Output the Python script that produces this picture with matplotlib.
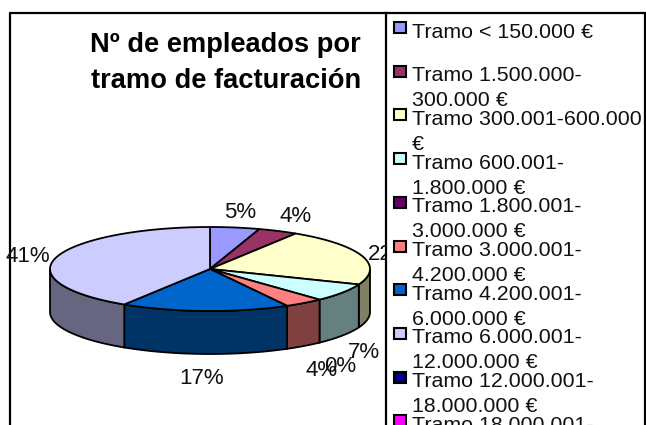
import numpy as np
import matplotlib
matplotlib.use("Agg")
import matplotlib.pyplot as plt
from matplotlib.patches import Polygon, Rectangle

plt.rcParams['font.family'] = ['Liberation Sans', 'DejaVu Sans']

# ------------------------------
# Data
# ------------------------------
tramos = [
    "Tramo < 150.000 €",
    "Tramo 1.500.000-\n300.000 €",
    "Tramo 300.001-600.000\n€",
    "Tramo 600.001-\n1.800.000 €",
    "Tramo 1.800.001-\n3.000.000 €",
    "Tramo 3.000.001-\n4.200.000 €",
    "Tramo 4.200.001-\n6.000.000 €",
    "Tramo 6.000.001-\n12.000.000 €",
    "Tramo 12.000.001-\n18.000.000 €",
    "Tramo 18.000.001-",
]
porcentajes = [5, 4, 22, 7, 0, 4, 17, 41, 0, 0]
etiquetas = ["5%", "4%", "22%", "7%", "0%", "4%", "17%", "41%"]
colores = ["#9999FF", "#993366", "#FFFFCC", "#CCFFFF", "#660066",
           "#FF8080", "#0066CC", "#CCCCFF", "#000080", "#FF00FF"]
lados = ["#666688", "#4d1a33", "#808066", "#668080", "#330033",
         "#804040", "#003366", "#666680", "#000040", "#800080"]

# pie geometry in pixels
cx, cy = 210, 269
rx, ry = 160, 42
depth = 43

W, H = 646, 425
fig = plt.figure(figsize=(W / 100, H / 100), dpi=100)
ax = fig.add_axes([0, 0, 1, 1])
ax.set_xlim(0, W)
ax.set_ylim(H, 0)
ax.axis("off")

# outer frame
ax.plot([10, 10, 386], [H + 5, 13, 13], color="black", lw=1.6, zorder=1)


def borde(t0, t1):
    t = np.radians(np.linspace(t0, t1, max(int(t1 - t0) + 2, 2)))
    return cx + rx * np.sin(t), cy - ry * np.cos(t)


# ------------------------------
# Pie
# ------------------------------
cortes = np.concatenate([[0], np.cumsum(porcentajes)]) * 3.6

# walls: only the part of the rim that faces the viewer (90 to 270 deg)
for i in range(len(porcentajes)):
    t0, t1 = max(cortes[i], 90), min(cortes[i + 1], 270)
    if t1 <= t0:
        continue
    x, y = borde(t0, t1)
    pts = np.vstack([np.c_[x, y], np.c_[x[::-1], y[::-1] + depth]])
    ax.add_patch(Polygon(pts, fc=lados[i], ec="black", lw=1.3, zorder=2))

for i in range(len(porcentajes)):
    if porcentajes[i] == 0:
        continue
    x, y = borde(cortes[i], cortes[i + 1])
    pts = np.vstack([[cx, cy], np.c_[x, y]])
    ax.add_patch(Polygon(pts, fc=colores[i], ec="black", lw=1.3, zorder=3))

etq_x = [240, 296, 390, 364, 340, 322, 202, 28]
etq_y = [212, 216, 254, 353, 366, 370, 378, 256]
for s, x, y in zip(etiquetas, etq_x, etq_y):
    ax.text(x, y, s, fontsize=16, color="#111111", ha="center", va="center", zorder=4)

# ------------------------------
# Title
# ------------------------------
ax.text(361, 45, "Nº de empleados por", fontsize=19.6, fontweight="bold",
        ha="right", va="center", zorder=4)
ax.text(361, 81, "tramo de facturación", fontsize=19.6, fontweight="bold",
        ha="right", va="center", zorder=4)

# ------------------------------
# Legend
# ------------------------------
ax.add_patch(Rectangle((386, 13), 259, H, fc="white", ec="black", lw=1.6, zorder=5))

for i, nombre in enumerate(tramos):
    yy = 31 + 43.7 * i
    ax.add_patch(Rectangle((394, yy - 9), 12, 11, fc=colores[i], ec="black", lw=1.5, zorder=6))
    lineas = nombre.split("\n")
    ax.text(412, yy + 1, lineas[0], fontsize=15.4, color="#111111", ha="left", va="center", zorder=7)
    if len(lineas) > 1:
        ax.text(412, yy + 26, lineas[1], fontsize=15.4, color="#111111", ha="left", va="center", zorder=7)

fig.savefig("out.png", dpi=100)
